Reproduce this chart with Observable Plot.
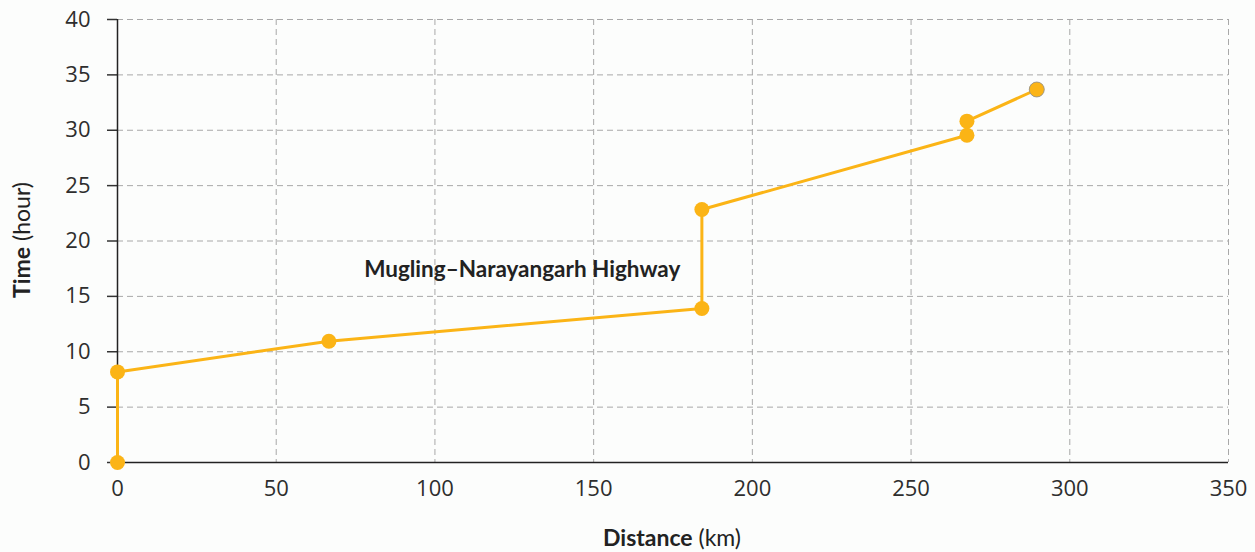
<!DOCTYPE html>
<html>
<head>
<meta charset="utf-8">
<script src="https://cdn.jsdelivr.net/npm/d3@7"></script>
<script src="https://cdn.jsdelivr.net/npm/@observablehq/plot@0.6"></script>
<style>
  html, body { margin: 0; padding: 0; background: #fcfdfc; }
  #chart { width: 1255px; height: 552px; }
</style>
</head>
<body>
<div id="chart"></div>
<script>
const distance = [0, 0, 66.6, 184.1, 184.1, 267.6, 267.6, 289.6];
const time = [0, 8.18, 10.95, 13.9, 22.84, 29.55, 30.82, 33.68];
const xTicks = [0, 50, 100, 150, 200, 250, 300, 350];
const yTicks = [0, 5, 10, 15, 20, 25, 30, 35, 40];
const annotation = [{x: 77.7, y: 17.43, text: "Mugling–Narayangarh Highway"}];

const data = distance.map((d, i) => ({distance: d, time: time[i]}));
const last = [data[data.length - 1]];
const gold = "#fbb416";

const chart = Plot.plot({
  width: 1255,
  height: 552,
  marginLeft: 117,
  marginRight: 27,
  marginTop: 19,
  marginBottom: 90,
  x: {domain: [0, 350]},
  y: {domain: [0, 40]},
  style: {background: "#fcfdfc", fontFamily: "'Open Sans', sans-serif", fontSize: "22px", color: "#333"},
  marks: [
    Plot.gridX(xTicks, {stroke: "#a8a8a8", strokeOpacity: 1, strokeDasharray: "6,4"}),
    Plot.gridY(yTicks, {stroke: "#a8a8a8", strokeOpacity: 1, strokeDasharray: "6,4"}),
    Plot.axisX(xTicks, {tickSize: 0, tickPadding: 18, label: null, fontSize: 22, fill: "#2e2e2e"}),
    Plot.axisY(yTicks, {tickSize: 10, tickPadding: 17, label: null, fontSize: 22, fill: "#2e2e2e", stroke: "#333", strokeWidth: 1.5}),
    Plot.ruleY([0], {stroke: "#222", strokeWidth: 1.5}),
    Plot.ruleX([0], {stroke: "#222", strokeWidth: 1.5}),
    Plot.line(data, {x: "distance", y: "time", stroke: gold, strokeWidth: 3}),
    Plot.dot(data, {x: "distance", y: "time", r: 7.5, fill: gold}),
    Plot.dot(last, {x: "distance", y: "time", r: 7.5, fill: gold, stroke: "#8a8f99", strokeWidth: 0.8}),
    Plot.text(annotation, {x: "x", y: "y", text: "text", textAnchor: "start", fontFamily: "Lato, sans-serif", fontWeight: 700, fontSize: 22.5, fill: "#222"})
  ]
});

document.getElementById("chart").appendChild(chart);

const svg = d3.select(chart);
const xl = svg.append("text")
  .attr("x", 672).attr("y", 546)
  .attr("text-anchor", "middle")
  .attr("font-family", "Lato, sans-serif")
  .attr("font-size", 23)
  .attr("fill", "#222");
xl.append("tspan").attr("font-weight", 700).text("Distance");
xl.append("tspan").attr("font-weight", 400).text(" (km)");

const yl = svg.append("text")
  .attr("transform", "translate(30,240) rotate(-90)")
  .attr("text-anchor", "middle")
  .attr("font-family", "Lato, sans-serif")
  .attr("font-size", 23)
  .attr("fill", "#222");
yl.append("tspan").attr("font-weight", 700).text("Time");
yl.append("tspan").attr("font-weight", 400).text(" (hour)");
</script>
</body>
</html>
